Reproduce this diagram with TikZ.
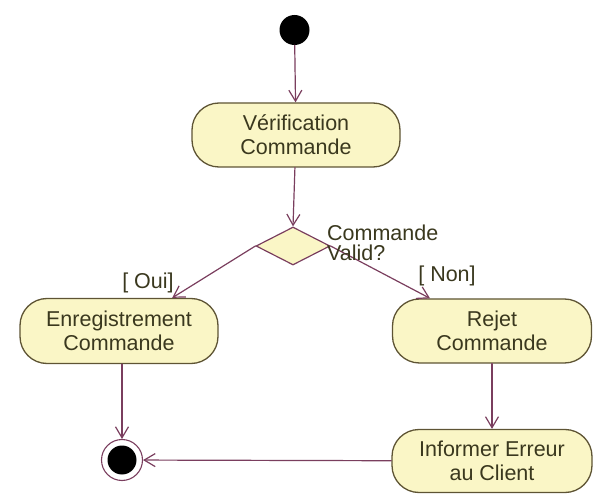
\documentclass[tikz,border=0pt]{standalone}
\usepackage{fontspec}
\setmainfont{Liberation Sans}
\usepackage{tikz}
\usetikzlibrary{arrows.meta,shapes.geometric}
\usepackage{xcolor}
\definecolor{actfill}{HTML}{FAF6C6}
\definecolor{actdraw}{HTML}{5E5434}
\definecolor{flowcol}{HTML}{7A3E5E}
\definecolor{txtcol}{HTML}{3A381E}

\begin{document}
\begin{tikzpicture}[x=1pt,y=-1pt,>={Straight Barb[length=11pt,width=13pt]},line cap=round,
  font=\fontsize{21.5}{24}\selectfont,
  activity/.style={draw=actdraw,fill=actfill,line width=1.3pt,rounded corners=27pt,
    text=txtcol,align=center,inner sep=0pt},
  flow/.style={->,draw=flowcol,line width=1.2pt},
  guard/.style={text=txtcol,inner sep=0pt}]
\useasboundingbox (0,0) rectangle (598,500);
\node[circle,fill=black,minimum size=30pt,inner sep=0pt] (start) at (294.5,30) {};
\node[activity,minimum width=208pt,minimum height=64pt] (verif) at (296,135) {V\'erification\\Commande};
\node[diamond,draw=flowcol,fill=actfill,line width=1.2pt,minimum width=74pt,minimum height=38pt,inner sep=0pt] (choix) at (293,246) {};
\node[activity,minimum width=198pt,minimum height=65pt] (enreg) at (119,331) {Enregistrement\\Commande};
\node[activity,minimum width=199pt,minimum height=64pt] (rejet) at (492,331) {Rejet\\Commande};
\node[activity,minimum width=200pt,minimum height=63pt] (info) at (492,461) {Informer Erreur\\au Client};
\node[circle,draw=flowcol,fill=white,line width=1.1pt,minimum size=41pt,inner sep=0pt] (fin) at (122,460) {};
\node[circle,fill=black,minimum size=29pt,inner sep=0pt] (finpt) at (fin) {};
\draw[flow] (start) -- (verif);
\draw[flow] (verif) -- (choix.north);
\draw[flow] (choix.west) -- (enreg);
\draw[flow] (choix.east) -- (rejet);
\draw[flow] (enreg.south -| fin) -- (fin);
\draw[flow] (rejet) -- (info);
\draw[flow] (info) -- (fin);
\node[guard,anchor=west,align=left,font=\fontsize{21.5}{20}\selectfont] (cond) at (327,243) {Commande\\Valid?};
\node[guard] (oui) at (148,283) {[ Oui]};
\node[guard] (non) at (447,276) {[ Non]};
\end{tikzpicture}
\end{document}
